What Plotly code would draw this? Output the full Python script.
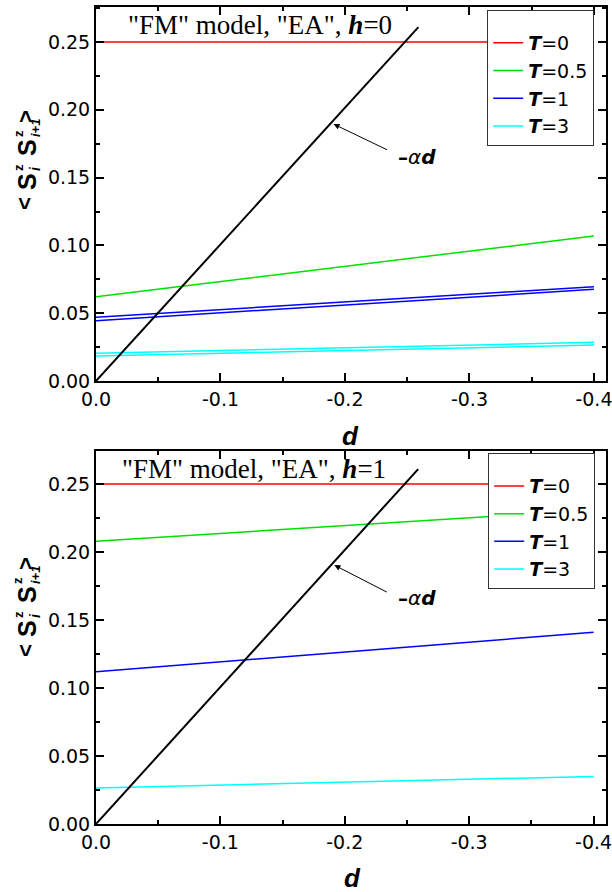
import plotly.graph_objects as go

# ---------------- data ----------------
d_ends = [0.0, -0.4]
T_labels = ["0", "0.5", "1", "3"]
colors = ["#ff0000", "#00e000", "#0000ff", "#00ffff"]

# panel h=0 (two nearly coincident curves for T=1 and T=3)
h0_T0 = [0.25, 0.25]
h0_T05 = [0.0622, 0.107]
h0_T1a = [0.0470, 0.0696]
h0_T1b = [0.0445, 0.0676]
h0_T3a = [0.0204, 0.0285]
h0_T3b = [0.0184, 0.0265]

# panel h=1
h1_T0 = [0.25, 0.25]
h1_T05 = [0.208, 0.231]
h1_T1 = [0.112, 0.141]
h1_T3 = [0.0265, 0.035]

# -alpha*d reference line
ad_x = [0.0, -0.259]
ad_y = [0.0, 0.261]

x_tickvals = [0.0, -0.1, -0.2, -0.3, -0.4]
x_ticktext = ["0.0", "-0.1", "-0.2", "-0.3", "-0.4"]
y_tickvals = [0.0, 0.05, 0.10, 0.15, 0.20, 0.25]
y_ticktext = ["0.00", "0.05", "0.10", "0.15", "0.20", "0.25"]

FONT = "Liberation Sans, Arial, sans-serif"
WFONT = "DejaVu Sans, Verdana, sans-serif"
SERIF = "Liberation Serif, Times New Roman, serif"

# layout geometry (pixels)
W, H = 612, 892
ML, MR, MT, MB = 96, 6, 7, 68
PW = W - ML - MR
PH = H - MT - MB

def px2paper(px, py):
    return (px - ML) / PW, (H - MB - py) / PH

fig = go.Figure()

def add(xa, ya, x, y, color, name, legend, show=True, width=1.5):
    fig.add_trace(go.Scatter(
        x=x, y=y, mode="lines", line=dict(color=color, width=width),
        name=name, xaxis=xa, yaxis=ya, legend=legend, showlegend=show))

def lname(t):
    return "<b><i>T</i></b>=" + t

# top panel
add("x", "y", d_ends, h0_T0, colors[0], lname(T_labels[0]), "legend")
add("x", "y", d_ends, h0_T05, colors[1], lname(T_labels[1]), "legend")
add("x", "y", d_ends, h0_T1a, colors[2], lname(T_labels[2]), "legend")
add("x", "y", d_ends, h0_T1b, colors[2], lname(T_labels[2]), "legend", show=False)
add("x", "y", d_ends, h0_T3a, colors[3], lname(T_labels[3]), "legend")
add("x", "y", d_ends, h0_T3b, colors[3], lname(T_labels[3]), "legend", show=False)
add("x", "y", ad_x, ad_y, "black", "ad", "legend", show=False, width=2)

# bottom panel
add("x2", "y2", d_ends, h1_T0, colors[0], lname(T_labels[0]), "legend2")
add("x2", "y2", d_ends, h1_T05, colors[1], lname(T_labels[1]), "legend2")
add("x2", "y2", d_ends, h1_T1, colors[2], lname(T_labels[2]), "legend2")
add("x2", "y2", d_ends, h1_T3, colors[3], lname(T_labels[3]), "legend2")
add("x2", "y2", ad_x, ad_y, "black", "ad", "legend2", show=False, width=2)

def xaxis(anchor, rng):
    return dict(domain=[0, 1], anchor=anchor, range=rng, automargin=False,
                tickvals=x_tickvals, ticktext=x_ticktext, ticklabeloverflow="allow",
                ticks="inside", ticklen=8, tickwidth=1.5, tickcolor="black",
                minor=dict(ticks="inside", ticklen=4, tickwidth=1.5, dtick=0.05, tickcolor="black"),
                showline=True, linecolor="black", linewidth=2, mirror="allticks",
                showgrid=False, zeroline=False,
                tickfont=dict(family=WFONT, size=19, color="black"))

def yaxis(anchor, dom, rng):
    return dict(domain=dom, anchor=anchor, range=rng, automargin=False,
                tickvals=y_tickvals, ticktext=y_ticktext, ticklabeloverflow="allow",
                ticks="inside", ticklen=8, tickwidth=1.5, tickcolor="black",
                minor=dict(ticks="inside", ticklen=4, tickwidth=1.5, dtick=0.025, tickcolor="black"),
                showline=True, linecolor="black", linewidth=2, mirror="allticks",
                showgrid=False, zeroline=False,
                tickfont=dict(family=WFONT, size=19, color="black"))

legend_common = dict(
    bgcolor="white", bordercolor="#333333", borderwidth=1,
    font=dict(family=WFONT, size=19, color="black"),
    xanchor="left", yanchor="top", tracegroupgap=0,
    title=dict(text=" ", font=dict(size=10)))

annotations = [
    dict(text='"FM" model, "EA", <b><i>h</i></b>=0', xref="x domain", yref="y domain",
         x=0.058, y=0.953, xanchor="left", yanchor="middle", showarrow=False,
         font=dict(family=SERIF, size=27, color="black")),
    dict(text='"FM" model, "EA", <b><i>h</i></b>=1', xref="x2 domain", yref="y2 domain",
         x=0.048, y=0.952, xanchor="left", yanchor="middle", showarrow=False,
         font=dict(family=SERIF, size=27, color="black")),
    # arrows
    dict(text="", x=-0.1908, y=0.1895, xref="x", yref="y", ax=-0.235, ay=0.170,
         axref="x", ayref="y", showarrow=True, arrowhead=2, arrowsize=1.2,
         arrowwidth=1, arrowcolor="black"),
    dict(text="", x=-0.1916, y=0.1904, xref="x2", yref="y2", ax=-0.235, ay=0.170,
         axref="x2", ayref="y2", showarrow=True, arrowhead=2, arrowsize=1.2,
         arrowwidth=1, arrowcolor="black"),
    dict(text="<b>–</b><i>α</i><b><i>d</i></b>", x=-0.2577, y=0.165, xref="x", yref="y",
         showarrow=False, font=dict(family=WFONT, size=20, color="black")),
    dict(text="<b>–</b><i>α</i><b><i>d</i></b>", x=-0.2577, y=0.166, xref="x2", yref="y2",
         showarrow=False, font=dict(family=WFONT, size=20, color="black")),
]

# axis titles "d"
x, y = px2paper(350, 436)
annotations.append(dict(text="<b><i>d</i></b>", xref="paper", yref="paper", x=x, y=y,
                        showarrow=False, font=dict(family=FONT, size=26, color="black")))
x, y = px2paper(352, 892)
annotations.append(dict(text="<b><i>d</i></b>", xref="paper", yref="paper", x=x, y=y,
                        yanchor="bottom", borderpad=0, yshift=-2,
                        showarrow=False, font=dict(family=FONT, size=26, color="black")))

# y-axis titles <S^z_i S^z_{i+1}>, built piecewise so that sup/sub are stacked
ytitle_pieces = [
    # text, px, py (pixel centre in the top panel), size
    ("<b>&lt;</b>", 25, 204, 22),
    ("<b>S</b>", 27, 182, 25),
    ("<b>z</b>", 18, 168, 13),
    ("<b><i>i</i></b>", 35, 169, 14),
    ("<b>S</b>", 27, 148, 25),
    ("<b>z</b>", 18, 134, 13),
    ("<b><i>i+1</i></b>", 35, 128, 13),
    ("<b>&gt;</b>", 25, 117, 22),
]
for shift in (0, 447):
    for txt, px, py, sz in ytitle_pieces:
        x, y = px2paper(px, py + shift)
        annotations.append(dict(text=txt, xref="paper", yref="paper", x=x, y=y,
                                textangle=-90, showarrow=False,
                                xanchor="center", yanchor="middle",
                                font=dict(family=FONT, size=sz, color="black")))

fig.update_layout(
    width=W, height=H,
    margin=dict(l=ML, r=MR, t=MT, b=MB, autoexpand=False),
    paper_bgcolor="white", plot_bgcolor="white",
    xaxis=xaxis("y", [0, -0.4097]),
    yaxis=yaxis("x", [0.5422, 1.0], [0, 0.2758]),
    xaxis2=xaxis("y2", [0, -0.41]),
    yaxis2=yaxis("x2", [0, 0.4565], [0, 0.2743]),
    legend=dict(x=0.767, y=0.9963, **legend_common),
    legend2=dict(x=0.769, y=0.454, **legend_common),
    annotations=annotations,
    showlegend=True,
)

fig.write_html("out.html", config={"displayModeBar": False},
               post_script="document.body.style.margin='0';document.body.style.padding='0';")
